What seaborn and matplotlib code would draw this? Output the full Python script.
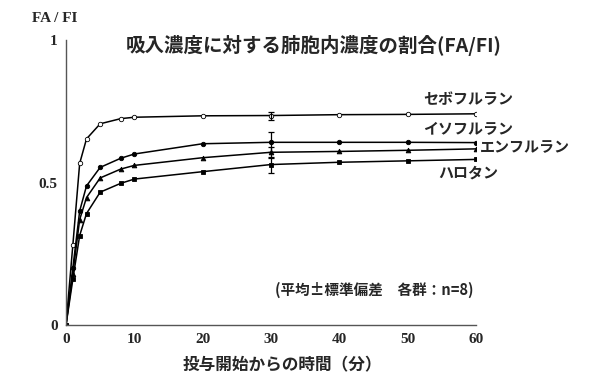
import numpy as np
import pandas as pd
import matplotlib
matplotlib.use("Agg")
import matplotlib.pyplot as plt
import seaborn as sns

# ---- data ----
times = [0, 1, 2, 3, 5, 8, 10, 20, 30, 40, 50, 60]
sevoflurane = [0, 0.28, 0.567, 0.653, 0.706, 0.724, 0.729, 0.734, 0.735, 0.738, 0.739, 0.741]
isoflurane = [0, 0.20, 0.400, 0.488, 0.553, 0.585, 0.600, 0.636, 0.641, 0.641, 0.641, 0.640]
enflurane = [0, 0.18, 0.370, 0.447, 0.516, 0.547, 0.560, 0.587, 0.606, 0.609, 0.613, 0.618]
halothane = [0, 0.16, 0.314, 0.391, 0.466, 0.497, 0.512, 0.538, 0.563, 0.571, 0.576, 0.581]
sd_time = 30
sd_values = {"セボフルラン": 0.014, "イソフルラン": 0.035, "エンフルラン": 0.02, "ハロタン": 0.028}
series_names = ["セボフルラン", "イソフルラン", "エンフルラン", "ハロタン"]
title = "吸入濃度に対する肺胞内濃度の割合(FA/FI)"
xlabel = "投与開始からの時間（分）"
note = "(平均±標準偏差　各群：n=8)"
x_ticks = [0, 10, 20, 30, 40, 50, 60]
y_ticks = [0, 0.5, 1]
y_ticklabels = ["0", "0.5", "1"]

sns.set_style("white")
plt.rcParams['font.family'] = ['Noto Sans CJK JP', 'DejaVu Sans']

series_vals = [sevoflurane, isoflurane, enflurane, halothane]
df = pd.DataFrame({
    "t": times * 4,
    "v": sum(series_vals, []),
    "s": sum([[n] * len(times) for n in series_names], []),
})

W, H = 600, 378
fig = plt.figure(figsize=(6, 3.78), dpi=100)
ax = fig.add_axes([66 / W, 1 - 325 / H, (476 - 66) / W, (325 - 40) / H])

markers = {"セボフルラン": "o", "イソフルラン": "o", "エンフルラン": "^", "ハロタン": "s"}
faces = {"セボフルラン": "white", "イソフルラン": "black", "エンフルラン": "black", "ハロタン": "black"}
sizes = {"セボフルラン": 3.2, "イソフルラン": 3.2, "エンフルラン": 3.4, "ハロタン": 3.0}

for name in series_names:
    sub = df[df["s"] == name]
    sns.lineplot(data=sub, x="t", y="v", ax=ax, color="black", linewidth=1.1,
                 marker=markers[name], markersize=sizes[name],
                 markerfacecolor=faces[name], markeredgecolor="black",
                 markeredgewidth=0.6, legend=False)
    yv = sub[sub["t"] == sd_time]["v"].values[0]
    ax.errorbar([sd_time], [yv], yerr=sd_values[name], color="black",
                linewidth=0.9, capsize=2, capthick=0.9, fmt="none")

ax.set_xlim(0, 60)
ax.set_ylim(0, 1)
ax.set_xticks(x_ticks)
ax.set_yticks(y_ticks)
ax.set_yticklabels(y_ticklabels)
ax.set_xlabel("")
ax.set_ylabel("")
for s in ["top", "right"]:
    ax.spines[s].set_visible(False)
for s in ["left", "bottom"]:
    ax.spines[s].set_color("#555555")
    ax.spines[s].set_linewidth(1.0)
ax.tick_params(axis="both", direction="out", length=3, width=0.8, color="#555555",
               labelsize=11, pad=3)
for lab in ax.get_xticklabels() + ax.get_yticklabels():
    lab.set_fontfamily(["Liberation Serif", "DejaVu Serif"])
    lab.set_fontweight("bold")

fig.text(314 / W, 1 - 46 / H, title, ha="center", va="center", fontsize=14, fontweight="bold")
fig.text(468 / W, 1 - 99 / H, series_names[0], ha="center", va="center", fontsize=10.8, fontweight="bold")
fig.text(468 / W, 1 - 129 / H, series_names[1], ha="center", va="center", fontsize=10.8, fontweight="bold")
fig.text(480 / W, 1 - 147 / H, series_names[2], ha="left", va="center", fontsize=10.8, fontweight="bold")
fig.text(468 / W, 1 - 173 / H, series_names[3], ha="center", va="center", fontsize=10.8, fontweight="bold")
fig.text(374 / W, 1 - 290 / H, note, ha="center", va="center", fontsize=10.5, fontweight="bold")
fig.text(282 / W, 1 - 365 / H, xlabel, ha="center", va="center", fontsize=12, fontweight="bold")
fig.text(32 / W, 1 - 18 / H, "FA / FI", ha="left", va="center", fontsize=11,
         fontweight="bold", family=["Liberation Serif", "DejaVu Serif"])

fig.savefig("out.png", dpi=100, facecolor="white")
